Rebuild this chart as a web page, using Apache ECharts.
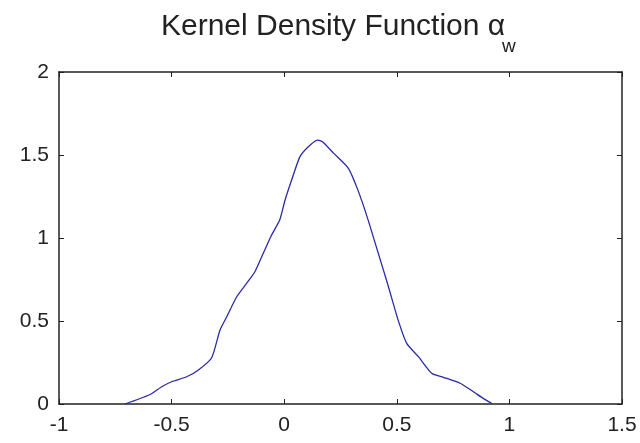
<!DOCTYPE html>
<html>
<head>
<meta charset="utf-8">
<script src="https://cdn.jsdelivr.net/npm/echarts@6/dist/echarts.min.js"></script>
<style>
  html, body { margin: 0; padding: 0; background: #fff; }
  #chart { width: 640px; height: 443px; }
</style>
</head>
<body>
<div id="chart"></div>
<script>
// kernel density curve
const densX = [-0.707, -0.6, -0.544, -0.5, -0.433, -0.381, -0.322, -0.285, -0.255, -0.211,
  -0.167, -0.13, -0.093, -0.056, -0.02, 0.004, 0.033, 0.07, 0.107, 0.148, 0.17, 0.22,
  0.285, 0.327, 0.37, 0.415, 0.46, 0.505, 0.544, 0.596, 0.655, 0.707, 0.781, 0.84, 0.884, 0.921];
const densY = [0, 0.054, 0.104, 0.134, 0.164, 0.205, 0.279, 0.446, 0.526, 0.646,
  0.727, 0.797, 0.908, 1.018, 1.108, 1.229, 1.349, 1.49, 1.55, 1.59, 1.58, 1.51,
  1.42, 1.29, 1.12, 0.92, 0.72, 0.51, 0.365, 0.285, 0.185, 0.161, 0.125, 0.074, 0.034, 0.004];

const xTicks = [-1, -0.5, 0, 0.5, 1, 1.5];
const xTickLabels = ['-1', '-0.5', '0', '0.5', '1', '1.5'];
const yTicks = [0, 0.5, 1, 1.5, 2];
const yTickLabels = ['0', '0.5', '1', '1.5', '2'];

const titleText = 'Kernel Density Function \u03b1';
const titleSub = 'w';

function tickName(ticks, labels) {
  return function (v) {
    const i = ticks.findIndex(t => Math.abs(t - v) < 1e-9);
    return i >= 0 ? labels[i] : '';
  };
}

const font = 'Liberation Sans, Arial, sans-serif';
const axisCol = '#222';

const chart = echarts.init(document.getElementById('chart'));
chart.setOption({
  animation: false,
  backgroundColor: '#fff',
  title: [{
    text: titleText,
    left: 156,
    top: 7,
    textStyle: { fontFamily: font, fontSize: 30, fontWeight: 'normal', color: '#222' }
  }, {
    text: titleSub,
    left: 497,
    top: 32,
    textStyle: { fontFamily: font, fontSize: 19, fontWeight: 'normal', color: '#222' }
  }],
  grid: { left: 59, right: 18, top: 72, bottom: 39, containLabel: false },
  xAxis: [{
    type: 'value', min: -1, max: 1.5, interval: 0.5, position: 'bottom',
    axisLine: { show: true, onZero: false, lineStyle: { color: axisCol, width: 1.5 } },
    axisTick: { show: true, inside: true, length: 5, lineStyle: { color: axisCol } },
    axisLabel: { margin: 11, fontFamily: font, fontSize: 21, color: '#222',
      formatter: tickName(xTicks, xTickLabels) },
    splitLine: { show: false }
  }, {
    type: 'value', min: -1, max: 1.5, interval: 0.5, position: 'top',
    axisLine: { show: true, onZero: false, lineStyle: { color: axisCol, width: 1.5 } },
    axisTick: { show: true, inside: true, length: 5, lineStyle: { color: axisCol } },
    axisLabel: { show: false },
    splitLine: { show: false }
  }],
  yAxis: [{
    type: 'value', min: 0, max: 2, interval: 0.5, position: 'left',
    axisLine: { show: true, onZero: false, lineStyle: { color: axisCol, width: 1.5 } },
    axisTick: { show: true, inside: true, length: 5, lineStyle: { color: axisCol } },
    axisLabel: { margin: 10, fontFamily: font, fontSize: 21, color: '#222',
      formatter: tickName(yTicks, yTickLabels) },
    splitLine: { show: false }
  }, {
    type: 'value', min: 0, max: 2, interval: 0.5, position: 'right',
    axisLine: { show: true, onZero: false, lineStyle: { color: axisCol, width: 1.5 } },
    axisTick: { show: true, inside: true, length: 5, lineStyle: { color: axisCol } },
    axisLabel: { show: false },
    splitLine: { show: false }
  }],
  series: [{
    type: 'line',
    xAxisIndex: 0,
    yAxisIndex: 0,
    data: densX.map((x, i) => [x, densY[i]]),
    showSymbol: false,
    smooth: 0.2,
    lineStyle: { color: '#2a2aa8', width: 1.3 }
  }]
});
</script>
</body>
</html>
